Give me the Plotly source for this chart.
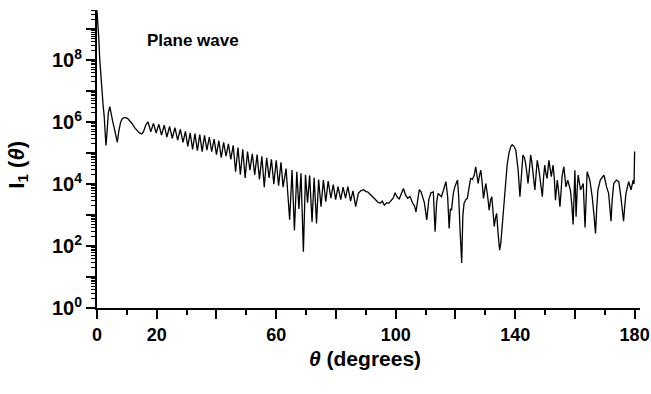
import plotly.graph_objects as go

# Scattering angle (degrees) and intensity (in decades, log10 of I1)
theta = [
    0.0, 0.3, 0.6, 0.9, 1.2, 1.6, 2.0, 2.4, 2.8, 3.0, 3.3, 3.8, 4.3, 4.8, 5.3, 5.8, 6.3, 6.8,
    7.3, 7.9, 8.5, 9.3, 10.2, 11.0, 11.8, 12.6, 13.4, 14.2, 15.0, 15.6, 16.3,
    17.1, 18.0, 18.9, 19.8, 20.7, 21.6, 22.5, 23.4, 24.3, 25.2, 26.1, 27.0, 27.9, 28.8,
    29.6, 30.4, 31.2, 32.0, 32.8, 33.6, 34.4, 35.2, 36.0, 36.8, 37.6, 38.4, 39.2, 40.0,
    40.8, 41.6, 42.4, 43.2, 44.0, 44.8, 45.6, 46.4, 47.2, 48.0, 48.8, 49.6, 50.4, 51.2,
    52.0, 52.8, 53.6, 54.4, 55.2, 56.0, 56.8, 57.6, 58.4, 59.2, 60.0, 60.8, 61.6, 62.3,
    63.3, 64.5, 65.3, 66.1, 66.9, 67.6, 68.3, 69.1,
    69.8, 70.5, 71.2, 72.0, 72.7, 73.5, 74.2, 75.0, 75.8, 76.6, 77.4, 78.3, 79.1, 79.9,
    80.7, 81.6, 82.4, 83.2, 84.0, 84.9, 85.7, 86.6, 87.5, 88.3, 89.3, 90.0, 90.6, 91.7,
    92.5, 93.3, 94.0, 94.8, 95.5, 96.2, 97.0, 97.7, 98.4, 99.2, 99.8, 100.5, 101.2, 101.9,
    102.6, 103.3, 104.0, 104.8, 105.7, 106.3, 106.8, 107.4, 107.9, 108.5, 109.0, 109.6,
    110.4, 111.1, 111.8, 112.6, 113.2, 113.7, 114.2, 115.3, 116.0, 116.8, 117.4, 117.9,
    118.3, 118.7, 119.3, 119.8, 120.7, 121.1, 121.5, 122.1, 122.5, 122.9, 123.5, 124.0,
    124.6, 125.1, 125.7, 126.3, 126.8, 127.3, 127.6, 128.1, 128.5, 129.0, 129.4, 129.8,
    130.2, 130.8, 131.3, 131.8, 132.2, 132.6, 133.0, 133.4, 133.8, 134.3, 134.8, 135.2,
    135.8, 136.3, 136.8, 137.3, 137.9, 138.5, 139.0, 139.6, 140.2, 140.6, 141.0, 141.6,
    142.1, 142.6, 143.1, 143.5, 144.0, 144.3, 144.8, 145.2, 145.6, 146.0, 146.6, 147.0,
    147.4, 147.9, 148.3, 148.7, 149.1, 149.5, 149.9, 150.3, 150.7, 151.3, 151.8, 152.1,
    152.7, 153.1, 153.5, 154.1, 154.5, 155.0, 155.4, 155.7, 156.3, 157.0, 157.6, 158.5,
    159.0, 159.4, 160.0, 160.4, 160.8, 161.1, 161.9, 162.4, 162.8, 163.1, 163.4, 163.8,
    164.1, 165.0, 165.8, 166.4, 166.9, 167.3, 167.7, 168.5, 169.1, 169.7, 170.2, 170.6,
    171.3, 171.7, 172.1, 172.5, 173.0, 173.9, 174.7, 175.4, 175.9, 176.3, 176.7, 177.1,
    178.0, 178.8, 179.5, 179.8, 180.0,
]
log10_I = [
    9.6, 9.2, 8.7, 8.05, 7.6, 7.0, 6.6, 6.2, 5.5, 5.25, 5.6, 6.3, 6.5, 6.3, 6.0, 5.8, 5.5, 5.35,
    5.7, 6.0, 6.12, 6.15, 6.12, 6.05, 5.95, 5.82, 5.72, 5.65, 5.62, 5.7, 5.9,
    6.01, 5.69, 5.96, 5.65, 5.93, 5.58, 5.9, 5.52, 5.86, 5.48, 5.82, 5.42, 5.77, 5.35,
    5.7, 5.22, 5.65, 5.12, 5.63, 5.08, 5.6, 5.05, 5.57, 5.1, 5.52, 5.05, 5.45, 4.95,
    5.4, 4.85, 5.35, 4.9, 5.3, 4.8, 5.25, 4.4, 5.18, 4.3, 5.12, 4.2, 5.05, 4.45,
    4.98, 4.3, 4.95, 4.15, 4.9, 3.9, 4.85, 4.2, 4.8, 4.0, 4.77, 3.95, 4.7, 3.9,
    4.5, 2.85, 4.45, 2.5, 4.4, 3.2, 4.35, 1.82,
    4.3, 3.4, 4.28, 2.78, 4.2, 2.73, 4.15, 3.27, 4.13, 3.43, 4.1, 3.55, 3.98, 3.5,
    3.92, 3.5, 3.9, 3.55, 3.92, 3.45, 3.78, 3.27, 3.7, 3.78, 3.82, 3.76, 3.75, 3.65,
    3.56, 3.48, 3.42, 3.38, 3.45, 3.32, 3.4, 3.38, 3.45, 3.55, 3.72, 3.58, 3.52, 3.7,
    3.86, 3.65, 3.54, 3.6, 3.38, 3.3, 3.1, 3.5, 3.82, 3.75, 3.6, 3.4,
    2.84, 3.5, 3.72, 3.75, 2.46, 3.4, 3.7, 3.59, 3.8, 4.08, 3.6, 2.57,
    3.2, 3.16, 3.7, 3.91, 4.13, 3.6, 2.63, 1.45, 3.0, 3.38, 3.5, 3.54,
    3.9, 4.18, 4.15, 4.29, 4.56, 4.25, 4.02, 4.3, 4.45, 4.0, 3.54, 3.8,
    4.02, 3.6, 3.16, 3.5, 3.59, 3.1, 2.63, 2.9, 3.05, 2.4, 1.87, 2.09,
    2.9, 3.48, 4.13, 4.6, 4.99, 5.2, 5.27, 5.22, 5.1, 4.85, 4.45, 3.59,
    4.4, 4.94, 4.85, 4.67, 4.3, 4.02, 4.5, 4.94, 4.7, 4.4, 3.81, 4.3,
    4.77, 4.5, 4.24, 3.9, 3.59, 4.2, 4.61, 4.35, 4.18, 4.77, 4.5, 4.24,
    4.61, 4.2, 3.48, 4.13, 3.8, 3.27, 3.8, 4.24, 4.56, 3.91, 4.13, 3.81,
    3.3, 2.7, 4.45, 2.95, 3.9, 4.29, 3.81, 3.9, 4.02, 3.3, 2.6, 3.6,
    4.4, 4.13, 3.59, 3.0, 2.41, 3.2, 3.81, 4.13, 4.2, 4.29, 4.1, 3.91,
    3.7, 3.3, 2.8, 3.5, 4.02, 4.13, 4.08, 3.59, 3.2, 2.8, 3.3, 3.7,
    4.08, 3.81, 4.13, 4.0, 5.05,
]
intensity = [10 ** v for v in log10_I]

x_tick_values = [0, 20, 40, 60, 80, 100, 120, 140, 160, 180]
x_tick_labels = ["0", "20", "", "60", "", "100", "", "140", "", "180"]
y_tick_values = [1e0, 1e1, 1e2, 1e3, 1e4, 1e5, 1e6, 1e7, 1e8, 1e9]
y_tick_labels = ["10<sup>0</sup>", "", "10<sup>2</sup>", "", "10<sup>4</sup>", "",
                 "10<sup>6</sup>", "", "10<sup>8</sup>", ""]
y_minor_values = [m * 10 ** n for n in range(0, 10) for m in range(2, 10)]

FONT = "Liberation Sans"
xtickfont = dict(family=FONT, size=18, color="black", weight="bold")
ytickfont = dict(family=FONT, size=20, color="black", weight="bold")

fig = go.Figure()
fig.add_trace(go.Scatter(
    x=theta, y=intensity, mode="lines",
    line=dict(color="black", width=1.3), hoverinfo="skip", showlegend=False,
))

fig.update_layout(
    width=651, height=394,
    margin=dict(l=97, r=11, t=10, b=86, autoexpand=False),
    plot_bgcolor="white", paper_bgcolor="white",
    showlegend=False,
    xaxis=dict(
        range=[0, 181.8], showline=True, linecolor="black", linewidth=2,
        ticks="outside", ticklen=9, tickwidth=1.5, tickcolor="black",
        tickmode="array", tickvals=x_tick_values, ticktext=x_tick_labels,
        tickfont=xtickfont, showgrid=False, zeroline=False,
        ticklabeloverflow="allow", automargin=False,
        minor=dict(dtick=10, ticks="outside", ticklen=5, tickwidth=1.5,
                   tickcolor="black", showgrid=False),
    ),
    yaxis=dict(
        type="log", range=[0, 9.62], showline=True, linecolor="black", linewidth=2,
        ticks="outside", ticklen=9, tickwidth=1.5, tickcolor="black",
        tickmode="array", tickvals=y_tick_values, ticktext=y_tick_labels,
        tickfont=ytickfont, showgrid=False, zeroline=False,
        ticklabeloverflow="allow", automargin=False,
        minor=dict(tickmode="array", tickvals=y_minor_values, ticks="outside",
                   ticklen=4, tickwidth=1, tickcolor="black", showgrid=False),
    ),
    annotations=[
        dict(text="Plane wave", x=0.177, y=0.899, xref="paper", yref="paper",
             xanchor="center", yanchor="middle", showarrow=False,
             font=dict(family=FONT, size=17, color="black", weight="bold")),
        dict(text="<i>θ</i> (degrees)", x=0.494, y=-0.168, xref="paper", yref="paper",
             xanchor="center", yanchor="middle", showarrow=False,
             font=dict(family=FONT, size=21, color="black", weight="bold")),
        dict(text="I<sub>1</sub> (<i>θ</i>)", x=-0.146, y=0.48, xref="paper", yref="paper",
             xanchor="center", yanchor="middle", showarrow=False, textangle=-90,
             font=dict(family=FONT, size=22, color="black", weight="bold")),
    ],
)

fig.write_html("out.html")
